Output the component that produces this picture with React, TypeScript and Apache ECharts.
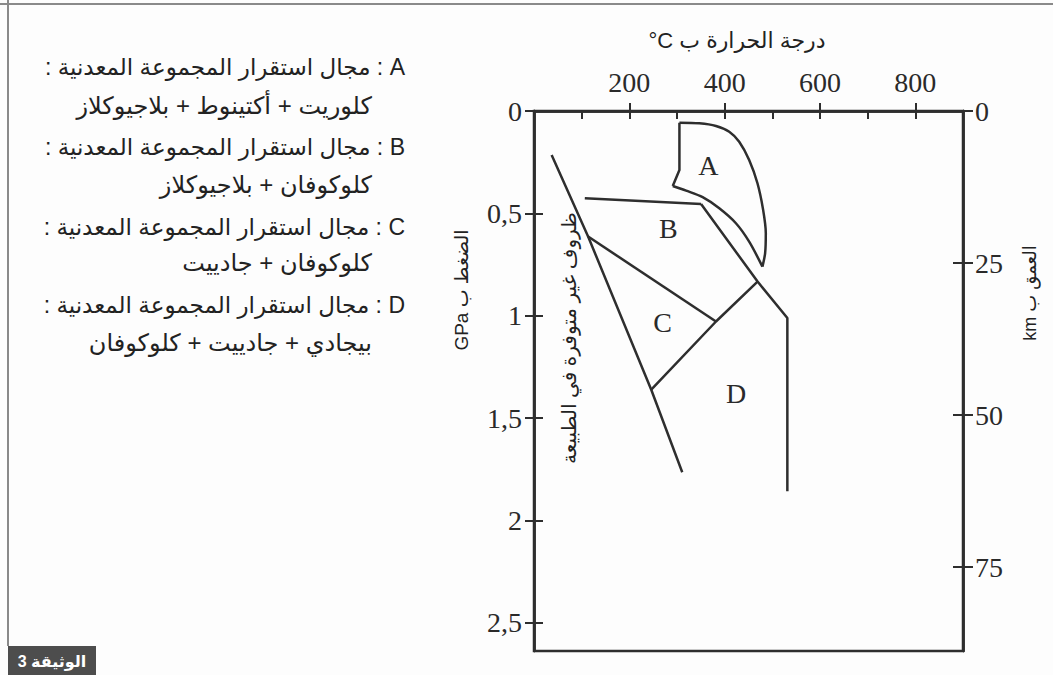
import React, { useEffect, useRef } from "react";
import * as echarts from "echarts";

// Axis ticks
const tempLabels = [200, 400, 600, 800];
const tempMinorTicks = [100, 200, 300, 400, 500, 600, 700, 800];
const pressureTicks = [0, 0.5, 1, 1.5, 2, 2.5];
const depthTicks = [0, 25, 50, 75];

// Boundaries, points as [temperature °C, pressure GPa]
const natureLimit = [[37, 0.215], [113.5, 0.613], [246, 1.361], [311, 1.764]];
const fieldALeft = [[291.1, 0.366], [305.1, 0.288], [305.1, 0.057]];
const fieldAOuter = [
  [305.1, 0.057], [346.9, 0.06], [381.8, 0.073], [409.6, 0.101], [430.5, 0.15],
  [451.4, 0.239], [468.8, 0.353], [480.7, 0.483], [486.3, 0.597], [484.9, 0.694], [479.2, 0.76],
];
const fieldALower = [
  [291.1, 0.366], [319.1, 0.389], [353.8, 0.421], [388.7, 0.475], [423.6, 0.548], [451.4, 0.638], [479.2, 0.76],
];
const fieldBTop = [[106.6, 0.426], [350.5, 0.454]];
const fieldBRight = [[350.5, 0.454], [469, 0.833], [531.5, 1.011], [531.5, 1.857]];
const fieldCTop = [[113.5, 0.613], [381.8, 1.028]];
const fieldCD = [[246, 1.361], [381.8, 1.028], [469, 0.833]];

const fieldNames = ["A", "B", "C", "D"];
const fieldLabelPos = [[366, 0.268], [282, 0.576], [270, 1.034], [424, 1.38]];

// Texts
const RLE = "\u202B";
const PDF = "\u202C";
const LRM = "\u200E";
const tempTitle = "درجة الحرارة ب " + LRM + "°C";
const pressureTitle = "الضغط ب GPa";
const depthTitle = "العمق ب km";
const natureNote = "ظروف غير متوفرة في الطبيعة";
const legendHeaders = [
  "A : مجال استقرار المجموعة المعدنية :",
  "B : مجال استقرار المجموعة المعدنية :",
  "C : مجال استقرار المجموعة المعدنية :",
  "D : مجال استقرار المجموعة المعدنية :",
];
const legendDetails = [
  "كلوريت + أكتينوط + بلاجيوكلاز",
  "كلوكوفان + بلاجيوكلاز",
  "كلوكوفان + جادييت",
  "بيجادي + جادييت + كلوكوفان",
];
const docLabel = "الوثيقة 3";

const rtl = (s: string) => RLE + s + PDF;

export default function App() {
  const ref = useRef<HTMLDivElement>(null);

  useEffect(() => {
    document.body.style.margin = "0";
    const chart = echarts.init(ref.current!, undefined, { renderer: "svg" });
    const ink = "#2e2e2e";
    const serif = "'Liberation Serif', 'DejaVu Serif', serif";
    const sans = "'Liberation Sans', 'DejaVu Sans', sans-serif";
    const tickLabel = { fontFamily: serif, fontSize: 28, color: "#2a2a2a" };
    const tickLine = { color: ink, width: 2 };
    const axisLine = { show: true, lineStyle: { color: ink, width: 2.5 } };

    const boundary = (data: number[][], smooth: number | boolean = false) => ({
      type: "line",
      xAxisIndex: 0,
      yAxisIndex: 0,
      data,
      smooth,
      symbol: "none",
      showSymbol: false,
      silent: true,
      lineStyle: { color: ink, width: 2.5 },
      z: 3,
    });

    const legendGraphics: any[] = [];
    const headerY = [67, 147, 227, 305];
    const detailY = [105, 184, 262, 342];
    legendHeaders.forEach((t, i) => {
      legendGraphics.push({
        type: "text",
        x: 405,
        y: headerY[i],
        style: {
          text: rtl(t),
          font: `23px ${sans}`,
          fill: "#222",
          textAlign: "right",
          align: "right",
          textVerticalAlign: "middle",
          verticalAlign: "middle",
        },
      });
      legendGraphics.push({
        type: "text",
        x: 372,
        y: detailY[i],
        style: {
          text: rtl(legendDetails[i]),
          font: `24px ${sans}`,
          fill: "#222",
          textAlign: "right",
          align: "right",
          textVerticalAlign: "middle",
          verticalAlign: "middle",
        },
      });
    });

    const centered = (text: string, x: number, y: number, size: number, rotation = 0, fill = "#222", weight = "normal") => ({
      type: "text",
      x,
      y,
      rotation,
      style: {
        text,
        font: `${weight} ${size}px ${sans}`,
        fill,
        textAlign: "center",
        align: "center",
        textVerticalAlign: "middle",
        verticalAlign: "middle",
      },
    });

    const option: any = {
      animation: false,
      backgroundColor: "#fdfdfd",
      grid: {
        left: 534,
        right: 90,
        top: 111,
        bottom: 24,
        show: true,
        borderColor: ink,
        borderWidth: 2.5,
        backgroundColor: "transparent",
      },
      xAxis: [
        {
          type: "value",
          position: "top",
          min: 0,
          max: 900,
          axisLine,
          axisTick: { show: true, inside: false, length: 8, customValues: tempLabels, lineStyle: tickLine },
          axisLabel: { show: true, customValues: tempLabels, margin: 15, ...tickLabel },
          splitLine: { show: false },
        },
        {
          type: "value",
          position: "top",
          min: 0,
          max: 900,
          axisLine,
          axisTick: { show: true, inside: true, length: 8, customValues: tempMinorTicks, lineStyle: tickLine },
          axisLabel: { show: false },
          splitLine: { show: false },
        },
      ],
      yAxis: [
        {
          type: "value",
          position: "left",
          min: 0,
          max: 2.637,
          inverse: true,
          axisLine,
          axisTick: { show: true, inside: false, length: 9, customValues: pressureTicks, lineStyle: tickLine },
          axisLabel: {
            show: true,
            customValues: pressureTicks,
            margin: 12,
            formatter: (v: number) => String(v).replace(".", ","),
            ...tickLabel,
          },
          splitLine: { show: false },
        },
        {
          type: "value",
          position: "left",
          min: 0,
          max: 2.637,
          inverse: true,
          axisLine,
          axisTick: { show: true, inside: true, length: 9, customValues: pressureTicks.slice(1), lineStyle: tickLine },
          axisLabel: { show: false },
          splitLine: { show: false },
        },
        {
          type: "value",
          position: "right",
          min: 0,
          max: 88.8,
          inverse: true,
          axisLine,
          axisTick: { show: true, inside: false, length: 10, customValues: depthTicks, lineStyle: tickLine },
          axisLabel: { show: true, customValues: depthTicks, margin: 12, ...tickLabel },
          splitLine: { show: false },
        },
        {
          type: "value",
          position: "right",
          min: 0,
          max: 88.8,
          inverse: true,
          axisLine,
          axisTick: { show: true, inside: true, length: 10, customValues: depthTicks.slice(1), lineStyle: tickLine },
          axisLabel: { show: false },
          splitLine: { show: false },
        },
      ],
      series: [
        boundary(natureLimit),
        boundary(fieldALeft),
        boundary(fieldAOuter, 0.3),
        boundary(fieldALower, 0.3),
        boundary(fieldBTop),
        boundary(fieldBRight),
        boundary(fieldCTop),
        boundary(fieldCD),
        {
          type: "scatter",
          xAxisIndex: 0,
          yAxisIndex: 0,
          symbol: "circle",
          symbolSize: 1,
          itemStyle: { color: "rgba(0,0,0,0)" },
          silent: true,
          data: fieldLabelPos.map((p, i) => ({ value: p, name: fieldNames[i] })),
          label: {
            show: true,
            position: "inside",
            formatter: "{b}",
            fontFamily: serif,
            fontSize: 28,
            color: "#2a2a2a",
            opacity: 1,
          },
          z: 4,
        },
      ],
      graphic: [
        { type: "line", shape: { x1: 0, y1: 4, x2: 1053, y2: 4 }, style: { stroke: "#8a8a8a", lineWidth: 2 } },
        { type: "line", shape: { x1: 8, y1: 0, x2: 8, y2: 646 }, style: { stroke: "#8a8a8a", lineWidth: 2 } },
        { type: "rect", shape: { x: 8, y: 646, width: 88, height: 29 }, style: { fill: "#4d4d4d" } },
        centered(rtl(docLabel), 52, 661, 16, 0, "#ffffff", "bold"),
        centered(rtl(tempTitle), 737, 40, 22),
        centered(rtl(pressureTitle), 461, 290, 19, Math.PI / 2),
        centered(rtl(depthTitle), 1030, 293, 18, Math.PI / 2),
        centered(natureNote, 569, 338, 20, Math.PI / 2),
        ...legendGraphics,
      ],
    };

    chart.setOption(option);
    return () => chart.dispose();
  }, []);

  return <div ref={ref} style={{ width: 1053, height: 675 }} />;
}
